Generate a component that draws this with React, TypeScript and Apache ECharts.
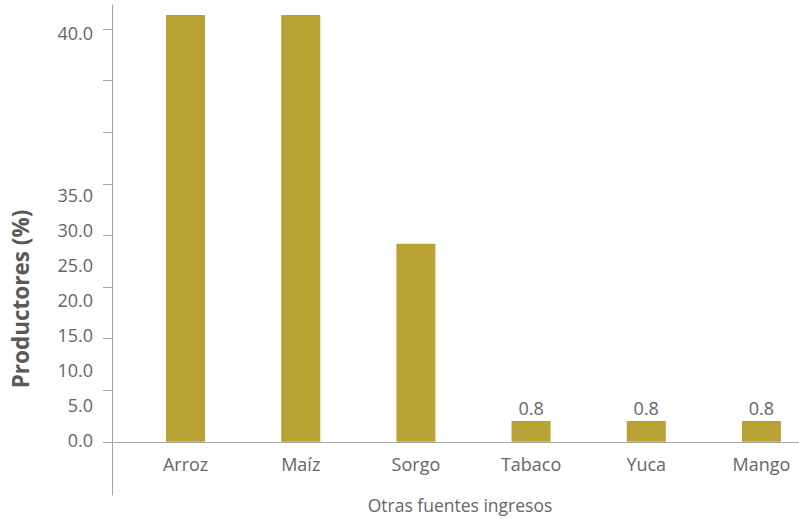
import React, { useEffect, useRef } from "react";
import * as echarts from "echarts";

const categories = ["Arroz", "Maíz", "Sorgo", "Tabaco", "Yuca", "Mango"];
const barValues = [41.35, 41.35, 19.2, 2.0, 2.0, 2.0];
const barLabels = ["", "", "", "0.8", "0.8", "0.8"];
const yTickValues = [0, 5, 10, 15, 20, 25, 30, 35, 40];
const yLabelValues = [0, 5, 10, 15, 20, 25, 30, 35, 40];
const yLabelTexts = ["0.0", "5.0", "10.0", "15.0", "20.0", "25.0", "30.0", "35.0", "40.0"];
const yAxisTitle = "Productores (%)";
const xAxisTitle = "Otras fuentes ingresos";

const FONT = "'Open Sans', 'Noto Sans', sans-serif";
const TEXT = "#666666";
const TITLE = "#595959";
const AXIS = "#A6A6A6";
const BAR = "#B9A133";

// the source chart places its labels on a compressed scale below 40
const labelPos = (v: number) => (v < 40 ? 0.16 + v * 0.678 : 39.65);

export default function App() {
  const ref = useRef<HTMLDivElement>(null);
  useEffect(() => {
    if (!ref.current) return;
    const chart = echarts.init(ref.current, null, { renderer: "svg" });
    const positions = yLabelValues.map(labelPos);
    const yMin = -5.16;
    const yMax = 42.33;
    chart.setOption({
      animation: false,
      textStyle: { fontFamily: FONT },
      grid: {
        left: 128,
        right: -20,
        top: 5,
        bottom: 24,
        containLabel: false,
        outerBoundsMode: "none",
      },
      graphic: [
        {
          type: "text",
          x: 20,
          y: 299,
          rotation: Math.PI / 2,
          style: {
            text: yAxisTitle,
            fontFamily: FONT,
            fontWeight: "bold",
            fontSize: 22.5,
            fill: TITLE,
            align: "center",
            verticalAlign: "middle",
          },
        },
      ],
      xAxis: {
        type: "category",
        data: categories,
        boundaryGap: true,
        axisLine: { show: true, onZero: true, lineStyle: { color: AXIS, width: 1 } },
        axisTick: { show: false },
        axisLabel: { color: TEXT, fontSize: 18, fontFamily: FONT, margin: -40 },
        name: xAxisTitle,
        nameLocation: "middle",
        nameGap: 1,
        nameTextStyle: { color: TEXT, fontSize: 17.5, fontFamily: FONT, padding: [0, 27, 0, 0] },
      },
      yAxis: [
        {
          type: "value",
          min: yMin,
          max: yMax,
          offset: 16,
          position: "left",
          axisLine: { show: true, lineStyle: { color: AXIS, width: 1 } },
          axisTick: {
            show: true,
            length: 9,
            customValues: yTickValues,
            lineStyle: { color: AXIS },
          },
          axisLabel: {
            show: true,
            customValues: positions,
            margin: 19,
            color: TEXT,
            fontSize: 18,
            fontFamily: FONT,
            formatter: (v: number) => {
              let best = 0;
              positions.forEach((p, i) => {
                if (Math.abs(p - v) < Math.abs(positions[best] - v)) best = i;
              });
              return yLabelTexts[best];
            },
          },
          splitLine: { show: false },
        },
        {
          type: "value",
          min: yMin,
          max: yMax,
          offset: 0,
          position: "left",
          axisLine: { show: false },
          axisTick: {
            show: true,
            length: 25,
            customValues: [0],
            lineStyle: { color: AXIS },
          },
          axisLabel: { show: false },
          splitLine: { show: false },
        },
      ],
      series: [
        {
          type: "bar",
          data: barValues,
          barWidth: 39,
          clip: false,
          itemStyle: { color: BAR },
          label: {
            show: true,
            position: "top",
            distance: 4,
            color: TEXT,
            fontSize: 18,
            fontFamily: FONT,
            formatter: (p: any) => barLabels[p.dataIndex],
          },
        },
      ],
    });
    return () => chart.dispose();
  }, []);
  return (
    <div
      ref={ref}
      style={{ position: "fixed", left: 0, top: 0, width: 799, height: 519, background: "#fff" }}
    />
  );
}
